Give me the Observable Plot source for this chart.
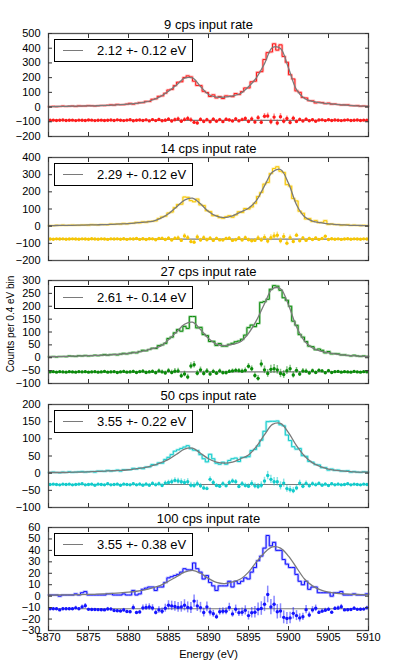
<!DOCTYPE html>
<html><head><meta charset="utf-8">
<script src="https://cdn.jsdelivr.net/npm/d3@7"></script>
<script src="https://cdn.jsdelivr.net/npm/@observablehq/plot@0.6"></script>
<style>
body{margin:0;background:#fff;}
#chart{position:relative;width:399px;height:664px;background:#fff;font-family:"Liberation Sans",Arial,Helvetica,sans-serif;}
.legend{position:absolute;border:1px solid #000;background:#fff;box-sizing:border-box;}
.legend .ln{position:absolute;left:8px;width:20px;top:10px;border-top:1.3px solid #7a7a7a;}
.legend .tx{position:absolute;left:42px;top:0;line-height:21px;font-size:13px;color:#000;white-space:nowrap;}
.ylab{position:absolute;left:10px;top:324px;transform:translate(-50%,-50%) rotate(-90deg);white-space:nowrap;font-size:10px;color:#000;}
</style></head><body><div id="chart"></div>
<script>
// ---- data ----
const xTicks = [5870, 5875, 5880, 5885, 5890, 5895, 5900, 5905, 5910];
const binStart = 5870, binWidth = 0.4, fitStart = 5870; // 100 bins of 0.4 eV; fit sampled every 1 eV

const titles = ["9 cps input rate", "14 cps input rate", "27 cps input rate", "50 cps input rate", "100 cps input rate"];
const legendTexts = ["2.12 +- 0.12 eV", "2.29 +- 0.12 eV", "2.61 +- 0.14 eV", "3.55 +- 0.22 eV", "3.55 +- 0.38 eV"];
const colors = ["#ff1a1a", "#f7c600", "#0a8a0a", "#12cccc", "#1414ff"];
const yDomains = [[-200, 500], [-200, 400], [-100, 300], [-100, 200], [-30, 60]];
const yTicks1 = [-200, -100, 0, 100, 200, 300, 400, 500];
const yTicks2 = [-200, -100, 0, 100, 200, 300, 400];
const yTicks3 = [-100, -50, 0, 50, 100, 150, 200, 250, 300];
const yTicks4 = [-100, -50, 0, 50, 100, 150, 200];
const yTicks5 = [-30, -20, -10, 0, 10, 20, 30, 40, 50, 60];
const residOffsets = [-90, -75, -55, -33, -11];

const hist1 = [3,5,3,4,7,4,6,7,4,8, 7,7,10,9,7,9,11,10,12,15, 13,18,16,16,20,25,20,25,30,30,
  39,38,53,56,73,76,94,116,120,146, 169,172,201,212,205,176,147,146,107,99,
  72,83,62,72,58,76,74,71,92,85, 105,130,130,172,176,236,241,323,370,375,
  430,387,423,344,304,220,191,110,100,65, 62,43,42,28,33,31,23,27,20,21, 17,14,15,15,10,9,10,6,7,5];
const fit1 = [3,4,5,6,7,8,9,11,13,16, 20,25,33,48,72,108,150,196,198,140, 85,68,68,76,92,138,200,295,405,398, 265,118,58,38,29,23,18,14,10,7, 5];
const resid1 = [0,1,-1,0,2,-1,0,1,-2,1, 0,-1,2,1,-2,0,1,-1,0,2, -1,3,0,-2,1,4,-3,0,2,-1,
  3,-4,5,-2,6,-3,0,8,-5,4, 10,-6,5,12,3,-14,-18,6,-8,4, -10,8,-6,5,-9,7,2,-5,10,-4,
  5,12,-8,10,-12,18,-14,28,30,-10, 22,-18,25,-6,12,-15,14,-8,6,-5, 8,-3,4,-6,2,3,-2,4,-1,2, 0,-2,1,3,-1,0,2,-1,1,0];

const hist2 = [3,3,5,4,6,4,5,6,5,5, 7,7,6,9,8,7,10,9,8,12, 11,13,12,16,13,17,17,22,19,25,
  22,28,29,31,45,54,58,77,82,108, 126,128,170,168,149,142,158,124,120,90,
  85,61,62,50,46,55,61,52,65,84, 80,103,100,112,133,173,196,245,255,307,
  336,346,320,313,242,233,161,147,87,75, 42,44,27,32,20,22,32,10,13,9, 10,6,7,8,4,6,4,3,5,3];
const fit2 = [3,4,5,5,6,7,8,9,11,13, 15,19,24,28,45,72,112,152,163,130, 85,58,50,60,82,104,150,235,315,330, 250,125,55,30,20,13,9,7,5,4, 3];
const resid2 = [0,-1,1,0,1,-1,0,1,0,-1, 1,0,-1,2,0,-1,1,0,-2,1, 0,1,-1,2,-2,1,0,3,-2,2,
  -3,2,1,-4,3,4,-3,5,-6,4, 6,-8,18,8,-15,-18,12,-6,8,-4, 5,-8,4,-5,-6,3,5,-8,-4,6,
  -6,8,-4,-10,-8,6,-5,10,-12,8, 18,22,-10,15,-24,8,-14,22,-10,6, -8,4,-3,6,-2,3,16,-3,2,-1, 1,-2,0,2,-1,1,0,-1,1,0];

const hist3 = [4,5,3,5,5,4,7,6,5,8, 7,9,7,8,10,8,10,12,10,12, 13,11,14,17,15,18,21,19,24,29,
  27,32,37,36,47,50,56,75,80,97, 110,103,122,114,160,160,116,118,90,86,
  63,64,48,55,45,45,52,56,62,65, 72,88,117,127,121,133,215,218,227,266,
  280,278,262,233,223,200,142,126,90,80, 63,45,43,31,34,29,19,24,15,16, 15,11,11,9,7,10,7,5,7,5];
const fit3 = [4,4,5,6,7,8,9,10,12,14, 17,21,27,35,45,70,100,130,138,110, 75,53,47,52,62,95,145,210,268,268, 205,120,65,38,26,19,14,10,8,6, 5];
const resid3 = [0,1,-1,1,0,-1,1,0,-1,1, 0,1,-1,0,1,-1,0,2,-1,0, 1,-2,0,2,-1,0,2,-2,1,3,
  -2,0,2,-3,4,0,-4,5,-2,3, 4,-15,-8,-20,23,28,-5,8,-6,4, -8,2,-5,4,-3,-3,2,4,6,5,
  3,6,22,12,-14,-25,31,8,-6,10, 12,8,-6,-10,5,12,-12,6,-8,4, 3,-4,5,-2,6,4,-3,5,-2,1, 2,-1,1,0,-1,2,0,-1,1,0];

const hist4 = [2,3,2,1,3,2,4,2,3,4, 5,3,4,5,3,6,6,5,8,6, 7,9,6,10,10,10,14,12,15,13,
  18,18,25,24,30,29,40,46,54,64, 68,72,76,80,71,67,66,54,42,33,
  55,42,29,26,32,26,37,42,44,34, 46,46,48,66,69,79,96,122,150,151,
  151,152,141,138,111,95,77,70,72,51, 49,34,32,25,24,16,16,9,12,8, 9,6,6,7,3,5,3,2,4,3];
const fit4 = [2,2,2,3,3,4,5,6,7,8, 10,13,16,22,30,40,55,70,73,58, 42,32,29,32,42,53,78,112,142,145, 118,80,50,30,19,12,8,6,4,3, 3];
const resid4 = [0,1,0,-1,1,0,1,-1,0,1, 2,-1,0,1,-2,1,0,-1,2,-1, 0,1,-2,1,0,-1,2,-1,1,-2,
  1,-2,3,-1,2,-3,4,6,8,12, 10,8,6,8,-2,-3,2,-4,-10,-12, 15,6,-3,-5,2,-4,6,10,8,-6,
  2,-3,-5,3,-4,-6,-2,10,26,15, 8,8,-4,4,-12,-15,-18,-10,4,-5, 3,-4,2,-1,3,-2,1,-3,2,-1, 1,-1,0,2,-1,1,0,-1,1,0];

const hist5 = [1,1,1,0,1,1,1,1,2,1, 3,4,1,1,1,1,1,1,2,2, 1,1,1,2,1,1,5,1,2,6,
  7,8,8,5,8,8,12,16,17,18, 19,21,24,23,23,29,24,21,15,18,
  12,9,5,9,9,9,13,8,13,11, 13,16,15,21,25,31,35,42,53,44,
  47,40,40,32,28,25,25,19,13,10, 13,6,8,8,3,3,3,3,0,3, 3,4,1,1,1,2,1,1,1,2];
const fit5 = [1.0,1.0,1.1,1.2,1.3,1.5,1.7,2.0,2.4,2.9, 3.5,4.3,5.5,7.3,9.5,13,17,21,22.5,20, 15.5,12,11,12.5,15,21,30,38,43,42, 35,25,15,9,5.5,3.5,2.5,2,1.6,1.4, 1.2];
const resid5 = [0,0,0,-1,0,0,0,0,0.8,0, 1.6,2.6,-0.5,-0.6,-0.7,-0.8,-0.9,-1,-0.2,-0.3,
  -1.5,-1.7,-2,-1.1,-2.4,-2.6,1.1,-3.3,-2.8,0.8, 1.2,1.5,0.7,-3.2,-1,-2.2,0.5,3,2.5,2,
  1.2,1.6,3,1.2,0.6,6.7,2.5,1,-3.3,1.6, -2.8,-4.4,-7,-2.6,-2.2,-2.2,1.2,-4.5,-0.4,-3.4,
  -3,-1.4,-6,-3.5,-3,-0.5,0.2,4,12.5,1.5, 4,-2.6,-2,-7.5,-8.5,-8,-4,-6,-8,-7,
  -0.8,-5.4,-1,0.4,-3.2,-2.1,-1.3,-0.5,-3.1,0.3, 0.6,1.8,-1,-0.9,-0.7,0.4,-0.5,-0.4,-0.3,0.8];

const hists = [hist1, hist2, hist3, hist4, hist5];
const fits = [fit1, fit2, fit3, fit4, fit5];
const resids = [resid1, resid2, resid3, resid4, resid5];
const yTicksAll = [yTicks1, yTicks2, yTicks3, yTicks4, yTicks5];

// ---- layout ----
const chart = document.getElementById("chart");
const panelTops = [33, 157, 280, 404, 527];
const plotH = 103, ml = 48, mr = 31, mt = 22;
const fitColor = "#7a7a7a";
const font = "'Liberation Sans', Arial, Helvetica, sans-serif";

titles.forEach((title, i) => {
  const last = i === titles.length - 1;
  const mb = last ? 36 : 4;
  const hist = hists[i], color = colors[i], off = residOffsets[i];
  const histPts = hist.map((v, k) => ({x: binStart + k * binWidth, y: v}));
  histPts.push({x: binStart + hist.length * binWidth, y: hist[hist.length - 1]});
  const fitPts = fits[i].map((v, j) => ({x: fitStart + j, y: v}));
  const resPts = resids[i].map((r, k) => ({
    x: binStart + (k + 0.5) * binWidth,
    y: off + r,
    e: Math.sqrt(Math.max(hist[k], 1))
  }));
  const blank = () => "";
  const svg = Plot.plot({
    width: 399, height: mt + plotH + mb,
    marginLeft: ml, marginRight: mr, marginTop: mt, marginBottom: mb,
    style: {fontFamily: font, fontSize: "11px", overflow: "visible", background: "transparent", color: "#000"},
    x: {domain: [xTicks[0], xTicks[xTicks.length - 1]]},
    y: {domain: yDomains[i]},
    marks: [
      Plot.line(histPts, {x: "x", y: "y", curve: "step-after", stroke: color, strokeWidth: 2.6, strokeOpacity: 0.3}),
      Plot.line(histPts, {x: "x", y: "y", curve: "step-after", stroke: color, strokeWidth: 1}),
      Plot.ruleY([off], {stroke: fitColor, strokeWidth: 1.2}),
      Plot.ruleX(resPts, {x: "x", y1: d => d.y - d.e, y2: d => d.y + d.e, stroke: color, strokeOpacity: 0.5, strokeWidth: 1.5}),
      Plot.dot(resPts, {x: "x", y: "y", r: 1.7, fill: color}),
      Plot.line(fitPts, {x: "x", y: "y", curve: "catmull-rom", stroke: fitColor, strokeWidth: 1.3}),
      Plot.frame({stroke: "#505050", strokeWidth: 1.3}),
      Plot.axisY({anchor: "left", ticks: yTicksAll[i], tickSize: -4, tickPadding: 12, tickFormat: "d", label: null, fontSize: 11, stroke: "#333"}),
      Plot.axisY({anchor: "right", ticks: yTicksAll[i], tickSize: -4, tickFormat: blank, label: null, stroke: "#333"}),
      Plot.axisX({anchor: "bottom", ticks: xTicks, tickSize: -4, tickPadding: 7, tickFormat: last ? "d" : blank, label: null, fontSize: 11, stroke: "#333"}),
      Plot.axisX({anchor: "top", ticks: xTicks, tickSize: -4, tickFormat: blank, label: null, stroke: "#333"}),
      Plot.text([title], {text: d => d, frameAnchor: "top", lineAnchor: "middle", dy: -9, fontSize: 13, fill: "#000"}),
      last ? Plot.text(["Energy (eV)"], {text: d => d, frameAnchor: "bottom", lineAnchor: "middle", dy: 24, fontSize: 11, fill: "#000"}) : null
    ]
  });
  svg.style.position = "absolute";
  svg.style.left = "0px";
  svg.style.top = (panelTops[i] - mt) + "px";
  chart.appendChild(svg);
});

titles.forEach((title, i) => {
  const lg = document.createElement("div");
  lg.className = "legend";
  lg.style.left = "54px";
  lg.style.top = (panelTops[i] + 6) + "px";
  lg.style.width = "139px";
  lg.style.height = "23px";
  const ln = document.createElement("div"); ln.className = "ln";
  const tx = document.createElement("div"); tx.className = "tx"; tx.textContent = legendTexts[i];
  lg.appendChild(ln); lg.appendChild(tx);
  chart.appendChild(lg);
});

const yl = document.createElement("div");
yl.className = "ylab";
yl.textContent = "Counts per 0.4 eV bin";
chart.appendChild(yl);
</script></body></html>
